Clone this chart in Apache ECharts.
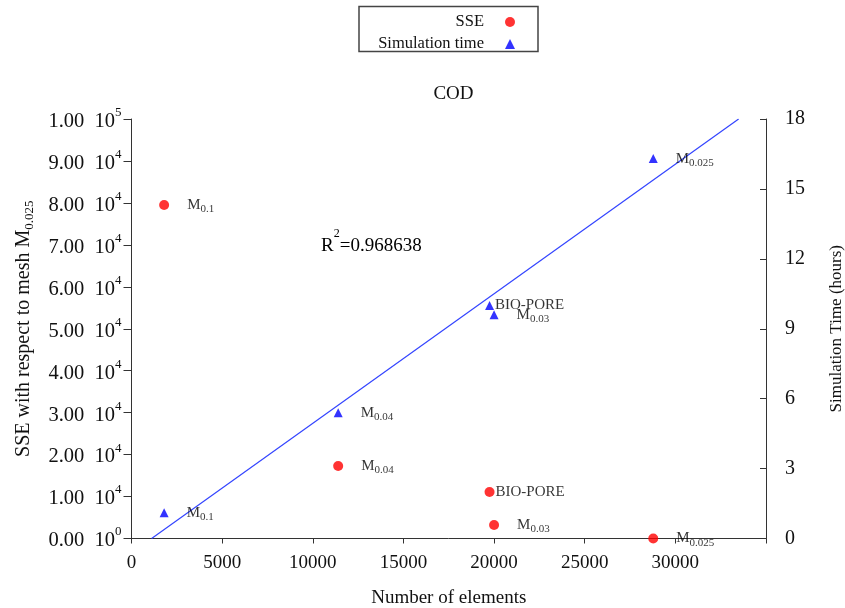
<!DOCTYPE html>
<html>
<head>
<meta charset="utf-8">
<script src="https://cdn.jsdelivr.net/npm/echarts@6/dist/echarts.min.js"></script>
<style>html,body{margin:0;padding:0;background:#fff;}#c{width:845px;height:608px;}</style>
</head>
<body>
<div id="c"></div>
<script>
// ---- data ----
const meshMain = ['M', 'M', 'BIO-PORE', 'M', 'M'];
const meshSub = ['0.1', '0.04', '', '0.03', '0.025'];
const elements = [1800, 11400, 19750, 20000, 28780];
const sse = [79500, 17300, 11100, 3200, 0];
const simTime = [1.1, 5.4, 10.0, 9.6, 16.3];
const fitX = [1110, 33490];
const fitY = [0, 18];
const r2Text = '0.968638';
const xTicks = [0, 5000, 10000, 15000, 20000, 25000, 30000];
const rightTicks = [0, 3, 6, 9, 12, 15, 18];

const FONT = 'Liberation Serif';
const chart = echarts.init(document.getElementById('c'), null, {renderer: 'canvas'});

function pointLabel(i) {
  return meshSub[i] ? '{m|' + meshMain[i] + '}{s|' + meshSub[i] + '}' : '{m|' + meshMain[i] + '}';
}
const labelRich = {
  m: {fontFamily: FONT, fontSize: 15, color: '#000', lineHeight: 20, verticalAlign: 'middle'},
  s: {fontFamily: FONT, fontSize: 11, color: '#000', lineHeight: 20, verticalAlign: 'bottom'}
};
function buildPoints(yvals) {
  return elements.map((x, i) => ({
    value: [x, yvals[i]],
    label: {distance: meshSub[i] ? 18 : 1}
  }));
}

function sciLabel(v) {
  if (v === 0) return '{n|0.00  10}{e|0}';
  const exp = Math.floor(Math.log10(v) + 1e-9);
  const mant = v / Math.pow(10, exp);
  return '{n|' + mant.toFixed(2) + '  10}{e|' + exp + '}';
}

const option = {
  backgroundColor: '#fff',
  animation: false,
  title: {
    text: 'COD', left: 448.5, top: 80, textAlign: 'center',
    textStyle: {fontFamily: FONT, fontSize: 19, fontWeight: 'normal', color: '#111'}
  },
  legend: [
    {data: ['SSE'], orient: 'vertical', align: 'right', right: 330, top: 13.5, padding: 0,
     itemWidth: 10, itemHeight: 10,
     textStyle: {fontFamily: FONT, fontSize: 16.5, color: '#111', padding: [0, 16, 0, 0]}},
    {data: ['Simulation time'], orient: 'vertical', align: 'right', right: 330, top: 35.5, padding: 0,
     itemWidth: 10, itemHeight: 10,
     textStyle: {fontFamily: FONT, fontSize: 16.5, color: '#111', padding: [0, 16, 0, 0]}}
  ],
  graphic: [
    {type: 'rect', shape: {x: 359, y: 6.5, width: 179, height: 45},
     style: {fill: 'none', stroke: '#444', lineWidth: 1.5}, z: 100},
    {type: 'text', left: 321, top: 228,
     style: {
       text: '{r|R}{e|2}{r|=' + r2Text + '}',
       rich: {
         r: {fontFamily: FONT, fontSize: 19, color: '#111', lineHeight: 28, verticalAlign: 'bottom'},
         e: {fontFamily: FONT, fontSize: 12, color: '#111', lineHeight: 28, verticalAlign: 'top'}
       }
     }}
  ],
  grid: {left: 131.5, right: 79, top: 119, bottom: 69.5, containLabel: false, outerBoundsMode: 'none'},
  xAxis: {
    type: 'value', min: 0, max: 35000, interval: 5000,
    name: 'Number of elements', nameLocation: 'middle', nameGap: 50,
    nameTextStyle: {fontFamily: FONT, fontSize: 19, color: '#111'},
    axisLine: {lineStyle: {color: '#333', width: 1}},
    axisTick: {length: 5, lineStyle: {color: '#333'}},
    splitLine: {show: false},
    axisLabel: {
      fontFamily: FONT, fontSize: 19, color: '#111', margin: 15,
      formatter: v => (xTicks.indexOf(v) >= 0 ? String(v) : '')
    }
  },
  yAxis: [
    {
      type: 'value', min: 0, max: 100000, interval: 10000, position: 'left',
      name: '{t|SSE with respect to mesh M}{s|0.025}', nameLocation: 'middle', nameGap: 95, nameRotate: 90,
      nameTextStyle: {
        rich: {
          t: {fontFamily: FONT, fontSize: 20, color: '#111', lineHeight: 26, verticalAlign: 'middle'},
          s: {fontFamily: FONT, fontSize: 13, color: '#111', lineHeight: 26, verticalAlign: 'bottom'}
        }
      },
      axisLine: {show: true, lineStyle: {color: '#333', width: 1}},
      axisTick: {show: true, length: 8, lineStyle: {color: '#333'}},
      splitLine: {show: false},
      axisLabel: {
        margin: 10, formatter: sciLabel,
        rich: {
          n: {fontFamily: FONT, fontSize: 20.5, color: '#111', lineHeight: 26, verticalAlign: 'bottom'},
          e: {fontFamily: FONT, fontSize: 13, color: '#111', lineHeight: 26, verticalAlign: 'top'}
        }
      }
    },
    {
      type: 'value', min: 0, max: 18, interval: 3, position: 'right',
      name: 'Simulation Time (hours)', nameLocation: 'middle', nameGap: 62, nameRotate: 90,
      nameTextStyle: {fontFamily: FONT, fontSize: 17, color: '#111'},
      axisLine: {show: true, lineStyle: {color: '#333', width: 1}},
      axisTick: {show: true, inside: true, length: 6, lineStyle: {color: '#333'}},
      splitLine: {show: false},
      axisLabel: {
        fontFamily: FONT, fontSize: 20, color: '#111', margin: 19,
        formatter: v => (rightTicks.indexOf(v) >= 0 ? String(v) : '')
      }
    }
  ],
  series: [
    {
      name: 'SSE', type: 'scatter', yAxisIndex: 0, symbol: 'circle', symbolSize: 10,
      itemStyle: {color: '#ff0000'},
      label: {show: true, position: 'right', formatter: p => pointLabel(p.dataIndex), rich: labelRich},
      data: buildPoints(sse), z: 3
    },
    {
      name: 'Simulation time', type: 'scatter', yAxisIndex: 1, symbol: 'triangle', symbolSize: 9,
      itemStyle: {color: '#0000ff'},
      label: {show: true, position: 'right', formatter: p => pointLabel(p.dataIndex), rich: labelRich},
      data: buildPoints(simTime), z: 3
    },
    {
      name: 'fit', type: 'line', yAxisIndex: 1, symbol: 'none', silent: true,
      lineStyle: {color: '#3344ff', width: 1.2},
      data: fitX.map((x, i) => [x, fitY[i]]), z: 2
    }
  ]
};
chart.setOption(option);
</script>
</body>
</html>
